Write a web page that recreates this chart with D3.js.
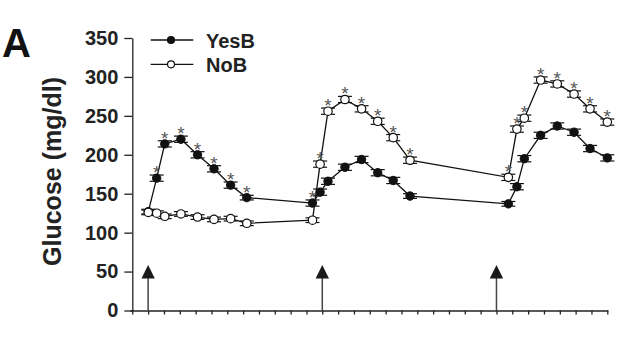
<!DOCTYPE html>
<html>
<head>
<meta charset="utf-8">
<script src="https://cdn.jsdelivr.net/npm/d3@7"></script>
<style>
  html, body { margin: 0; padding: 0; background: #fff; }
  svg { display: block; }
  text { font-family: "Liberation Sans", Arial, Helvetica, sans-serif; }
</style>
</head>
<body>
<svg id="chart" width="640" height="350"></svg>
<script>
// Sampling times, in axis tick units (three meal periods)
const times = [1.01, 1.54, 2.05, 3.07, 4.12, 5.16, 6.21, 7.23,
               11.38, 11.86, 12.36, 13.43, 14.48, 15.5, 16.48, 17.54,
               23.75, 24.29, 24.76, 25.79, 26.84, 27.9, 28.91, 30.0];
// Mean glucose (mg/dl)
const yesB = [127, 170, 214, 220, 200, 182, 161, 145,
              138, 152, 166, 184, 194, 177, 167, 147,
              137, 159, 195, 225, 237, 229, 208, 196];
const noB  = [126, 125, 121, 124, 120, 117, 118, 112,
              116, 188, 256, 271, 259, 243, 222, 193,
              171, 233, 247, 296, 291, 278, 259, 242];
// Standard errors (mg/dl)
const yesSem = [3, 4, 4, 4, 4, 4, 4, 3, 4, 4, 4, 4, 4, 4, 4, 3, 3, 4, 4, 4, 4, 4, 4, 4];
const noSem  = [3, 3, 3, 3, 3, 3, 3, 3, 3, 4, 4, 4, 4, 4, 4, 4, 4, 4, 4, 4, 4, 4, 4, 4];
// Significant difference between groups at each time point
const signif = [0, 1, 1, 1, 1, 1, 1, 1, 1, 1, 1, 1, 1, 1, 1, 1, 1, 1, 1, 1, 1, 1, 1, 1];
// Meal times (tick units)
const meals = [1, 12, 23];
const yTicks = [0, 50, 100, 150, 200, 250, 300, 350];
const xTickCount = 30;
const seriesNames = ["YesB", "NoB"];

const svg = d3.select("#chart");

const x = d3.scaleLinear().domain([0, xTickCount]).range([132.3, 607.3]);
const y = d3.scaleLinear().domain([0, 350]).range([310.5, 38]);

// Panel letter
svg.append("text")
  .attr("x", 2).attr("y", 57)
  .attr("font-size", 40).attr("font-weight", "bold")
  .attr("fill", "#111")
  .text("A");

// Y axis
const yAxis = svg.append("g")
  .attr("transform", `translate(${x(0)},0)`)
  .call(d3.axisLeft(y).tickValues(yTicks).tickSize(8).tickPadding(6).tickSizeOuter(0));
yAxis.selectAll("path, line").attr("stroke", "#222").attr("stroke-width", 1.3);
yAxis.selectAll("text")
  .attr("font-size", 20).attr("font-weight", "bold").attr("fill", "#222")
  .attr("font-family", "Liberation Sans, Arial, sans-serif");

// X axis (unlabelled ticks)
const xAxis = svg.append("g")
  .attr("transform", `translate(0,${y(0)})`)
  .call(d3.axisBottom(x).tickValues(d3.range(0, xTickCount + 1))
        .tickSize(4).tickSizeOuter(0).tickFormat(""));
xAxis.selectAll("path, line").attr("stroke", "#222").attr("stroke-width", 1.3);
xAxis.select("path").attr("d", `M${x(0) - 2},0.5H${x(xTickCount) + 1}`);

// Y axis title
svg.append("text")
  .attr("transform", `translate(61,171.5) rotate(-90)`)
  .attr("text-anchor", "middle")
  .attr("font-size", 25).attr("font-weight", "bold").attr("fill", "#222")
  .text("Glucose (mg/dl)");

// Meal arrows
const arrows = svg.append("g").selectAll("g").data(meals).join("g")
  .attr("transform", d => `translate(${x(d)},0)`);
arrows.append("line")
  .attr("x1", 0).attr("x2", 0)
  .attr("y1", y(0)).attr("y2", y(0) - 33)
  .attr("stroke", "#444").attr("stroke-width", 1.5);
arrows.append("path")
  .attr("d", `M0,${y(0) - 45.5}L6.7,${y(0) - 32}L-6.7,${y(0) - 32}Z`)
  .attr("fill", "#1a1a1a");

const pts = times.map((t, i) => ({ t, yes: yesB[i], no: noB[i], ys: yesSem[i], ns: noSem[i], sig: signif[i] }));

// Series lines
const line = d3.line().x(d => x(d[0])).y(d => y(d[1]));
svg.append("path")
  .datum(times.map((t, i) => [t, noB[i]]))
  .attr("d", line).attr("fill", "none").attr("stroke", "#111").attr("stroke-width", 1.3);
svg.append("path")
  .datum(times.map((t, i) => [t, yesB[i]]))
  .attr("d", line).attr("fill", "none").attr("stroke", "#111").attr("stroke-width", 1.3);

// Error bars
function errorBars(key, semKey) {
  const g = svg.append("g").attr("stroke", "#111").attr("stroke-width", 1.2);
  const sel = g.selectAll("g").data(pts).join("g")
    .attr("transform", d => `translate(${x(d.t)},0)`);
  sel.append("line").attr("x1", 0).attr("x2", 0)
    .attr("y1", d => y(d[key] - d[semKey])).attr("y2", d => y(d[key] + d[semKey]));
  sel.append("line").attr("x1", -7).attr("x2", 7)
    .attr("y1", d => y(d[key] + d[semKey])).attr("y2", d => y(d[key] + d[semKey]));
  sel.append("line").attr("x1", -7).attr("x2", 7)
    .attr("y1", d => y(d[key] - d[semKey])).attr("y2", d => y(d[key] - d[semKey]));
}
errorBars("yes", "ys");
errorBars("no", "ns");

// Markers: filled = YesB, open = NoB
svg.append("g").selectAll("circle").data(pts).join("circle")
  .attr("cx", d => x(d.t)).attr("cy", d => y(d.yes)).attr("r", 4.2)
  .attr("fill", "#111").attr("stroke", "#111").attr("stroke-width", 1);
svg.append("g").selectAll("circle").data(pts).join("circle")
  .attr("cx", d => x(d.t)).attr("cy", d => y(d.no)).attr("r", 4.2)
  .attr("fill", "#fff").attr("stroke", "#111").attr("stroke-width", 1.2);

// Significance stars above the higher group
svg.append("g").selectAll("text").data(pts.filter(d => d.sig)).join("text")
  .attr("x", d => x(d.t))
  .attr("y", d => y(Math.max(d.yes + d.ys, d.no + d.ns)) + 4)
  .attr("text-anchor", "middle")
  .attr("font-size", 19).attr("fill", "#555")
  .text("*");

// Legend
const legend = svg.append("g").selectAll("g").data(seriesNames).join("g")
  .attr("transform", (d, i) => `translate(0,${40 + i * 24.3})`);
legend.append("line")
  .attr("x1", 150.7).attr("x2", 193.3).attr("y1", 0).attr("y2", 0)
  .attr("stroke", "#111").attr("stroke-width", 1.3);
legend.append("circle")
  .attr("cx", 171).attr("cy", 0).attr("r", 3.5)
  .attr("fill", (d, i) => i === 0 ? "#111" : "#fff")
  .attr("stroke", "#111").attr("stroke-width", 1.2);
legend.append("text")
  .attr("x", 206).attr("y", 7.5)
  .attr("font-size", 20).attr("font-weight", "bold").attr("fill", "#222")
  .text(d => d);
</script>
</body>
</html>
